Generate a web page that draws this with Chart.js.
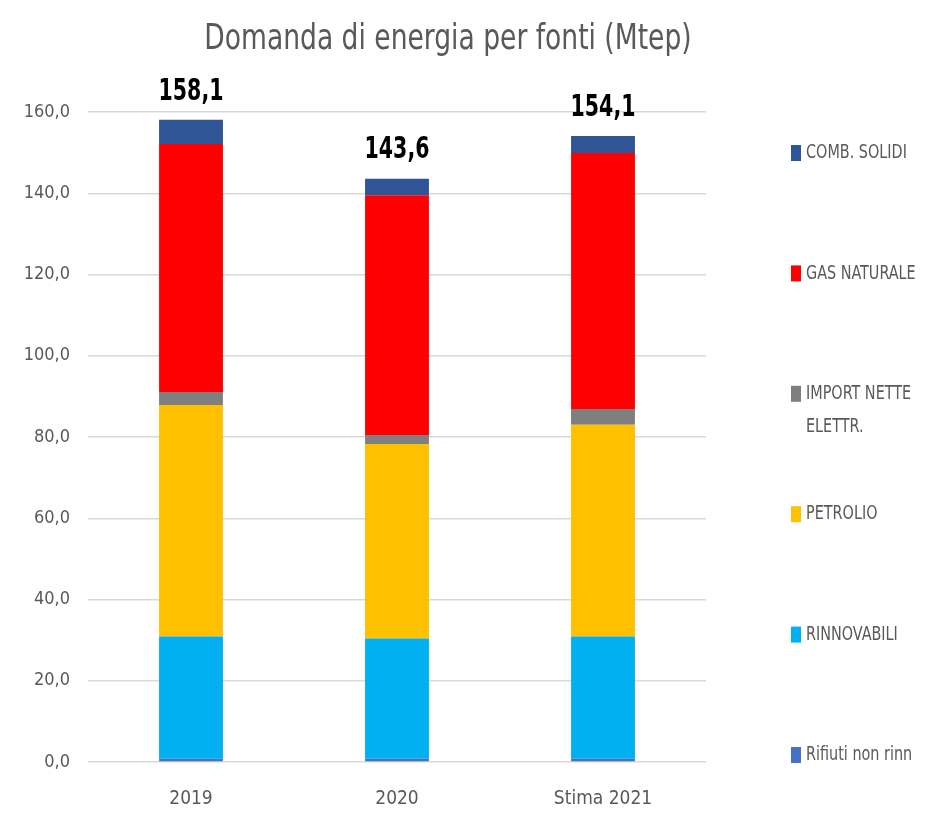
<!DOCTYPE html>
<html>
<head>
<meta charset="utf-8">
<script src="https://cdn.jsdelivr.net/npm/chart.js@4"></script>
<style>
  html, body { margin: 0; padding: 0; background: #fff; }
  #wrap { width: 926px; height: 814px; }
</style>
</head>
<body>
<div id="wrap"><canvas id="energyChart" width="926" height="814"></canvas></div>
<script>
const categories = ['2019', '2020', 'Stima 2021'];

const rifiuti     = [0.8, 0.8, 0.8];
const rinnovabili = [30.1, 29.6, 30.1];
const petrolio    = [57.0, 47.9, 52.1];
const importEl    = [3.2, 2.2, 3.9];
const gasNaturale = [61.0, 59.0, 63.0];
const combSolidi  = [6.0, 4.1, 4.2];

const yTicks = [0, 20, 40, 60, 80, 100, 120, 140, 160];

const FONT = '"Liberation Sans Narrow", "DejaVu Sans Condensed", "Open Sans", sans-serif';
const GREY = '#595959';

// legend entries, top to bottom (reverse of stack order)
const legendItems = [
    { text: ['COMB. SOLIDI'], color: '#2F5597' },
    { text: ['GAS NATURALE'], color: '#FF0000' },
    { text: ['IMPORT NETTE', 'ELETTR.'], color: '#7F7F7F' },
    { text: ['PETROLIO'], color: '#FFC000' },
    { text: ['RINNOVABILI'], color: '#00B0F0' },
    { text: ['Rifiuti non rinn'], color: '#4472C4' }
];

const fmt = v => v.toFixed(1).replace('.', ',');

// text squeezed horizontally, the source picture is narrower than wide
function narrowText(ctx, str, x, y, sx) {
    ctx.save();
    ctx.translate(x, y);
    ctx.scale(sx, 1);
    ctx.fillText(str, 0, 0);
    ctx.restore();
}

const extras = {
    id: 'extras',
    afterDraw(chart) {
        const ctx = chart.ctx;
        const area = chart.chartArea;
        ctx.save();

        // title
        ctx.fillStyle = GREY;
        ctx.font = '36px ' + FONT;
        ctx.textAlign = 'center';
        ctx.textBaseline = 'middle';
        narrowText(ctx, 'Domanda di energia per fonti (Mtep)', 448, 40, 0.82);

        // totals above the bars
        const yScale = chart.scales.y;
        const meta = chart.getDatasetMeta(0);
        ctx.fillStyle = '#000';
        ctx.font = 'bold 30px ' + FONT;
        categories.forEach((c, i) => {
            const total = chart.data.datasets.reduce((s, d) => s + d.data[i], 0);
            const x = meta.data[i].x;
            const y = yScale.getPixelForValue(total) - 28;
            narrowText(ctx, fmt(total), x, y, 0.76);
        });

        // legend on the right
        ctx.font = '20px ' + FONT;
        ctx.textAlign = 'left';
        const top = area.top + 41;
        const step = (area.bottom - 7 - top) / (legendItems.length - 1);
        legendItems.forEach((it, k) => {
            const y = top + k * step;
            ctx.fillStyle = it.color;
            ctx.fillRect(791, y - 8, 10, 16);
            ctx.fillStyle = GREY;
            it.text.forEach((line, j) => narrowText(ctx, line, 806, y + j * 33, 0.8));
        });

        ctx.restore();
    }
};

new Chart(document.getElementById('energyChart'), {
    type: 'bar',
    data: {
        labels: categories,
        datasets: [
            { label: 'Rifiuti non rinn', data: rifiuti, backgroundColor: '#4472C4' },
            { label: 'RINNOVABILI', data: rinnovabili, backgroundColor: '#00B0F0' },
            { label: 'PETROLIO', data: petrolio, backgroundColor: '#FFC000' },
            { label: 'IMPORT NETTE ELETTR.', data: importEl, backgroundColor: '#7F7F7F' },
            { label: 'GAS NATURALE', data: gasNaturale, backgroundColor: '#FF0000' },
            { label: 'COMB. SOLIDI', data: combSolidi, backgroundColor: '#2F5597' }
        ]
    },
    options: {
        responsive: false,
        animation: false,
        layout: { padding: { top: 112, right: 220, bottom: 0, left: 0 } },
        datasets: { bar: { categoryPercentage: 1, barPercentage: 0.31 } },
        plugins: {
            legend: { display: false },
            title: { display: false },
            tooltip: { enabled: false }
        },
        scales: {
            x: {
                stacked: true,
                afterFit(scale) { scale.height = 52; },
                grid: { display: false, drawTicks: false },
                border: { display: false },
                ticks: { color: GREY, font: { family: FONT, size: 19 }, padding: 26, maxRotation: 0 }
            },
            y: {
                stacked: true,
                min: 0,
                max: 160,
                afterBuildTicks(scale) {
                    scale.ticks = yTicks.map(v => ({ value: v }));
                },
                afterFit(scale) { scale.width = 88; },
                grid: { color: '#D9D9D9', lineWidth: 1.5, drawTicks: false },
                border: { display: false },
                ticks: {
                    color: GREY,
                    font: { family: FONT, size: 18 },
                    padding: 18,
                    callback: v => fmt(v)
                }
            }
        }
    },
    plugins: [extras]
});
</script>
</body>
</html>
